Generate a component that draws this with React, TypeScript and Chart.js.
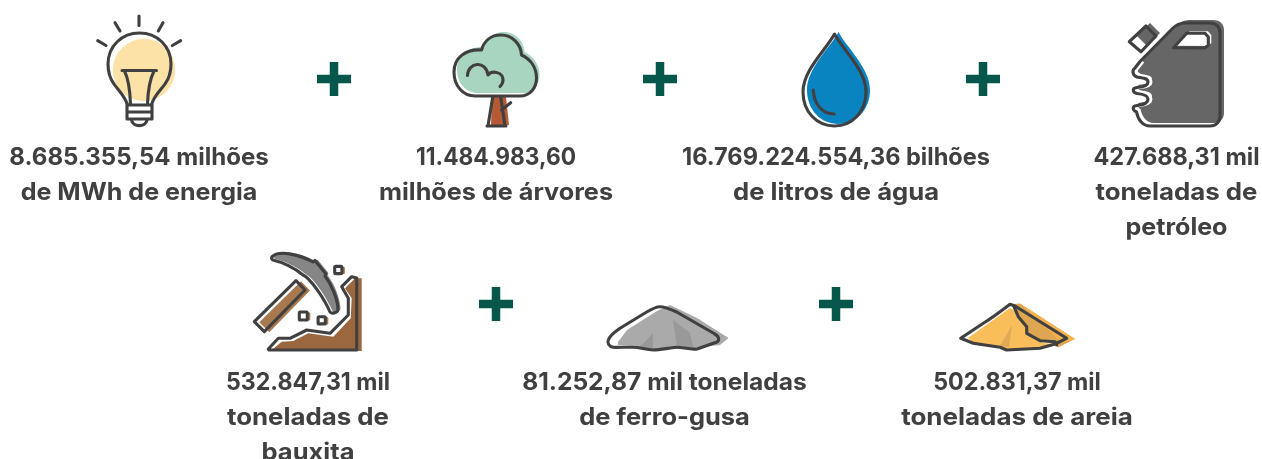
import React, { useEffect, useRef } from "react";
import { Chart, registerables } from "chart.js";

Chart.register(...registerables);

// ---------- content ----------
const resourceNames = ["energia", "árvores", "água", "petróleo", "bauxita", "ferro-gusa", "areia"];
const captionLines = [
  ["8.685.355,54 milhões", "de MWh de energia"],
  ["11.484.983,60", "milhões de árvores"],
  ["16.769.224.554,36 bilhões", "de litros de água"],
  ["427.688,31 mil", "toneladas de", "petróleo"],
  ["532.847,31 mil", "toneladas de", "bauxita"],
  ["81.252,87 mil toneladas", "de ferro-gusa"],
  ["502.831,37 mil", "toneladas de areia"],
];

// ---------- layout ----------
const W = 1262;
const H = 459;
const captionCentreX = [139, 496, 836, 1176.5, 308, 664.5, 1017];
const captionFirstBaseline = [165, 165, 165, 165, 390, 390, 390];
const captionWidths = [
  [259.4, 236.7],
  [160, 234],
  [308, 206],
  [166, 162, 102],
  [164, 162, 93],
  [284.6, 170.7],
  [167.7, 231.7],
];
const LINE_STEP = 35;
const plusX = [334, 660, 983, 496, 836];
const plusY = [79, 79, 79, 304, 304];
const INK = "#404040";
const GREEN = "#04574a";
const FONT = '700 24px Inter, "Noto Sans", sans-serif';

type Box = { x: number; y: number; w: number; h: number };
type Painter = (c: CanvasRenderingContext2D) => void;

function fillP(c: CanvasRenderingContext2D, d: string, color: string, dx = 0, dy = 0) {
  c.save();
  c.translate(dx, dy);
  c.fillStyle = color;
  c.fill(new Path2D(d));
  c.restore();
}
function line(c: CanvasRenderingContext2D, d: string, width = 3.1) {
  c.strokeStyle = INK;
  c.lineWidth = width;
  c.lineCap = "round";
  c.lineJoin = "round";
  c.stroke(new Path2D(d));
}
function rock(c: CanvasRenderingContext2D, x: number, y: number, r: number) {
  const d = `M${x - r} ${y - r + 1}Q${x - r} ${y - r} ${x - r + 1} ${y - r}L${x + r - 1} ${y - r}Q${x + r} ${y - r} ${x + r} ${y - r + 1}L${x + r} ${y + r - 1}Q${x + r} ${y + r} ${x + r - 1} ${y + r}L${x - r + 1} ${y + r}Q${x - r} ${y + r} ${x - r} ${y + r - 1}Z`;
  fillP(c, d, "#a8784f", 3, 0.5);
  fillP(c, d, "#ffffff");
  line(c, d);
}

const bulb: Painter = (c) => {
  c.fillStyle = "#fde2a8";
  c.beginPath();
  c.arc(144, 70, 31.2, 0, Math.PI * 2);
  c.fill();
  line(c, "M139 16L139 25.5M115 22.7L120 31M163 22.7L158.3 31M97.7 40.7L106 45.5M180.7 40.7L172.3 45.5");
  line(c, "M127.5 105C125 96 118 90 114 84C109.5 78 108 70 108 64C108 46 122 33 139.4 33C157 33 171 46 171 64C171 70 169.5 78 165 84C161 90 153.5 96 151.5 105");
  line(c, "M127 105L152 105L152 119L127 119ZM127 112L152 112M131.5 120C132.5 127.5 146 127.5 147 120");
  line(c, "M122 70.5L156.5 70.5M124.5 71C129 80 130 90 130.5 104M154 71C149.5 80 148 90 147.5 104");
};

const TREE_CANOPY = "M475 96L520 96C530 96 536.5 88 536.5 78C536.5 67 530 59 521.5 55C521 44 512 35 501 35C491 35 484 41 481.5 50C465 49 454 58 454 72C454 86 463 96 475 96Z";
const tree: Painter = (c) => {
  fillP(c, TREE_CANOPY, "#a8d5bf", 3, -3);
  fillP(c, "M492 97L506 97L509 125L491 125Z", "#b55a35");
  line(c, TREE_CANOPY);
  line(c, "M467.5 75.5C468 62 486 60 488 75C492 70 503 72 503 80C503 83 501.5 85 500 86.5");
  line(c, "M492.7 97L488 126M500.7 97L505 126M487 126L506 126M501.5 110L510.7 102.7");
};

const DROP = "M834.5 34C826 50 803 70 803 92C803 112 817 126 834.5 126C852 126 866 112 866 92C866 70 843 50 834.5 34Z";
const drop: Painter = (c) => {
  fillP(c, DROP, "#0a84c1", 4, -2);
  line(c, DROP);
  line(c, "M813.3 90C814 104 822 114 834.3 114");
};

const CAN_WAVE = "M1136.5 112C1132 110 1132 106 1137 105.5C1143 105 1148 103 1148 99C1148 95 1142 94 1137 93.5C1132 92 1132 88 1137 87.5C1143 87 1148 86 1148 82C1148 78 1142 78 1137 77C1132 75 1132 70 1135 68L1140 61.5";
const CAN = `M1140 61.5L1172 29C1176 25 1180 23 1185 23L1209 23C1216 23 1220 27 1220 33L1220 116C1220 122 1216 126 1210 126L1150 126C1143 126 1138 120 ${CAN_WAVE.slice(1)}Z`;
const CAN_HOLE = "M1173.5 47.7L1186.7 33.3L1205 33.3L1208.3 37L1208.3 45L1205 48Z";
const CAN_CAP = "M1129.3 41.7L1146 26L1156 36L1141 51.7Z";
const can: Painter = (c) => {
  fillP(c, CAN, "#666666", 4, -3);
  fillP(c, CAN_HOLE, "#ffffff", 3, -2);
  fillP(c, CAN_CAP, "#666666", 4, -3);
  fillP(c, "M1131 41.7L1137 36L1146 45L1141 50Z", "#ffffff");
  c.save();
  c.translate(3, 0);
  c.strokeStyle = "#ffffff";
  c.lineWidth = 3;
  c.stroke(new Path2D(CAN_WAVE));
  c.restore();
  line(c, CAN);
  line(c, CAN_HOLE);
  line(c, CAN_CAP);
};

const PICK_HEAD = "M273 256C280 250 300 255 313 262L315 260.5L326 274L325 276C332 285 338 300 338 310C337 313 332 314 330 312C324 298 310 278 303 275C295 268 282 262 273 260C271 259 271 257 273 256Z";
const HANDLE = "M254.3 321.7L296 280.7L305 290L264.3 331.7Z";
const HILL = "M268.3 349L278.3 338.3L290 338.3L306.7 330L330 333.3L348.3 315L348.3 298.3L341.7 286.7L351.7 276.7L356.7 278L356.7 350L269 350Z";
const pick: Painter = (c) => {
  fillP(c, HANDLE, "#a8784f", 5, 0.5);
  fillP(c, PICK_HEAD, "#868686", 2.5, -1);
  fillP(c, "M273 349L281.7 341.7L293.3 341L308.3 333.3L333.3 336.7L350.7 318.3L351.7 298.3L345 288.3L355 278.3L361.7 278.3L361.7 351L273 351Z", "#9a673e");
  line(c, HANDLE);
  line(c, PICK_HEAD);
  line(c, HILL);
  rock(c, 303.3, 316, 4);
  rock(c, 321.7, 320.3, 3.6);
  rock(c, 338.3, 270, 3.6);
};

const gravel: Painter = (c) => {
  fillP(c, "M618 342L627 330L657 311L670 305L697 318L728.5 338L720 345L693 348L653 349.5L633 346L618 345Z", "#aaaaaa");
  fillP(c, "M640 347L653 333L653 349Z", "#999999");
  fillP(c, "M673 320L690 333L693 347L677 347Z", "#999999");
  line(c, "M608.3 340C610 335 615 332 620 328.3L645 313C650 310 655 306.7 660 306.7C665 306.7 670 309 676.7 312L714 333.5C719 336 720 340 717 342L697 349C690 350 682 347 676.7 347.2C668 348 660 350 653.3 350C646 350 640 347.3 633.3 347.3C626 347 620 347.5 613 347.3C609 346.5 607 343 608.3 340Z");
};

const sand: Painter = (c) => {
  fillP(c, "M1014 304L1020 303.5L1075 339L1058 347.5L1055 343L1040 340.7L1026.7 333.3L1026.7 326.7L1018.3 316.7Z", "#dfa651");
  fillP(c, "M1020 303.5L1075 339L1062 343Z", "#f4b24d");
  fillP(c, "M968 338L1010 308L1015 311L1026.7 328.3L1026.7 333.3L1043 343L1055 344L1040 348.3L1006.7 349.5L1000 346.7L973.3 343.3Z", "#f9bd5a");
  fillP(c, "M1000 346L1012 325L1009 347Z", "#e0aa55");
  line(c, "M960.7 338.3L983.3 323.3C992 318 1000 312 1010 304.3L1015 306L1066.7 338.3L1055 344L1040 348.3L1006.7 350L1000 347.3L973.3 343.3Z");
  line(c, "M1014 306.7L1018.3 316.7L1026.7 326.7L1026.7 333.3L1040 340.7L1055 341.7L1056.7 345");
};

const iconBoxes: Box[] = [
  { x: 90, y: 10, w: 100, h: 120 },
  { x: 448, y: 26, w: 96, h: 104 },
  { x: 798, y: 28, w: 76, h: 102 },
  { x: 1124, y: 14, w: 104, h: 116 },
  { x: 250, y: 246, w: 116, h: 108 },
  { x: 602, y: 300, w: 130, h: 54 },
  { x: 956, y: 300, w: 122, h: 54 },
];
const painters = [bulb, tree, drop, can, pick, gravel, sand];

function makeIcon(box: Box, paint: Painter): HTMLCanvasElement {
  const cv = document.createElement("canvas");
  cv.width = box.w;
  cv.height = box.h;
  const c = cv.getContext("2d")!;
  c.translate(-box.x, -box.y);
  paint(c);
  return cv;
}

const captionPlugin = {
  id: "captions",
  afterDatasetsDraw(chart: any) {
    const { ctx, scales } = chart;
    ctx.save();
    ctx.font = FONT;
    ctx.fillStyle = INK;
    ctx.textAlign = "center";
    ctx.textBaseline = "alphabetic";
    captionLines.forEach((lines, i) => {
      lines.forEach((text, j) => {
        const px = scales.x.getPixelForValue(captionCentreX[i]);
        const py = scales.y.getPixelForValue(captionFirstBaseline[i] + j * LINE_STEP);
        const k = captionWidths[i][j] / ctx.measureText(text).width;
        ctx.save();
        ctx.translate(px, py);
        ctx.scale(k, 1);
        ctx.fillText(text, 0, 0);
        ctx.restore();
      });
    });
    ctx.restore();
  },
};

export default function App() {
  const ref = useRef<HTMLCanvasElement>(null);
  useEffect(() => {
    document.body.style.background = "#ffffff";
    const icons = iconBoxes.map((b, i) => makeIcon(b, painters[i]));
    const chart = new Chart(ref.current!, {
      type: "scatter",
      data: {
        datasets: [
          {
            label: "Recursos",
            data: iconBoxes.map((b, i) => ({ x: b.x + b.w / 2, y: b.y + b.h / 2, name: resourceNames[i] })),
            pointStyle: icons,
            pointRadius: 10,
            clip: false,
          },
          {
            label: "Soma",
            data: plusX.map((x, i) => ({ x, y: plusY[i] })),
            pointStyle: "cross",
            pointRadius: 17,
            pointBorderWidth: 8.5,
            pointBorderColor: GREEN,
            pointBackgroundColor: GREEN,
            clip: false,
          },
        ],
      } as any,
      options: {
        animation: false,
        responsive: false,
        events: [],
        layout: { padding: 0, autoPadding: false },
        plugins: { legend: { display: false }, tooltip: { enabled: false } },
        scales: {
          x: { type: "linear", display: false, min: 0, max: W },
          y: { type: "linear", display: false, min: 0, max: H, reverse: true },
        },
      },
      plugins: [captionPlugin],
    });
    return () => chart.destroy();
  }, []);
  return (
    <canvas
      ref={ref}
      width={W}
      height={H}
      style={{ position: "absolute", left: 0, top: 0, width: W, height: H, display: "block" }}
    />
  );
}
